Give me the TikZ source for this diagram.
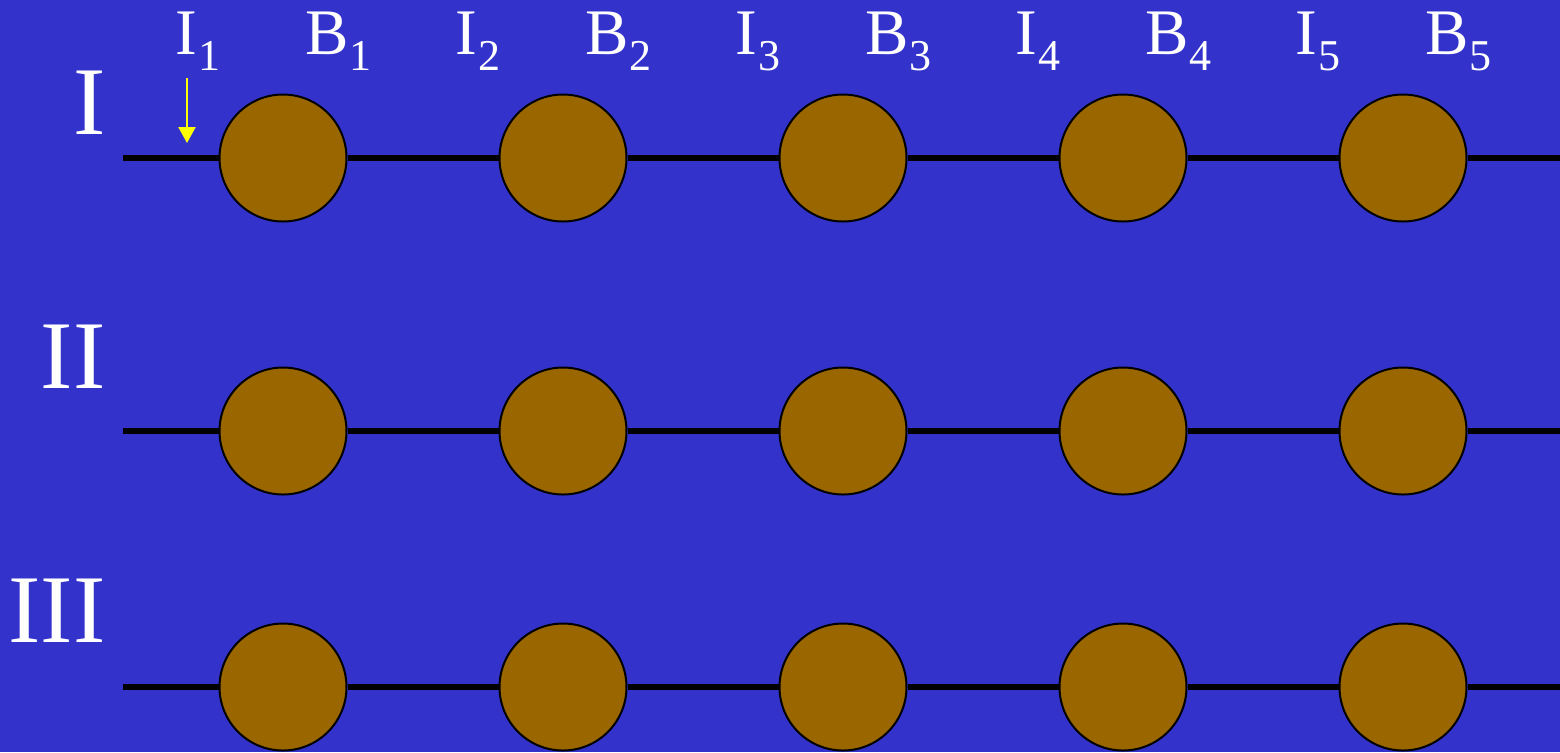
\documentclass[tikz,border=0pt]{standalone}
\usepackage{fontspec}
\setmainfont{Liberation Serif}
\usetikzlibrary{arrows.meta}
\definecolor{bgblue}{HTML}{3333CC}
\definecolor{ball}{HTML}{996600}
\definecolor{arrowyellow}{HTML}{FFFF00}
\newcommand{\lbl}[2]{#1\kern0.5pt\raisebox{-8pt}{\fontsize{22}{22}\selectfont #2}}
\begin{document}
\begin{tikzpicture}[x=0.5pt,y=-0.5pt,
  ball/.style={circle,draw=black,line width=1pt,fill=ball,minimum size=63.5pt,inner sep=0pt},
  wire/.style={line width=3pt,black},
  lab/.style={text=white,font=\fontsize{32.5}{34}\selectfont,inner sep=0pt,anchor=base west},
  roman/.style={text=white,font=\fontsize{48.5}{50}\selectfont,inner sep=0pt,anchor=base east},
  marker/.style={arrowyellow,line width=1.2pt,-{Triangle[width=8.5pt,length=8pt]}}]
\fill[bgblue] (0,0) rectangle (1560,752);
\useasboundingbox (0,0) rectangle (1560,752);
% column labels
\foreach \k/\x in {1/175,2/455,3/735,4/1015,5/1295}{
  \node[lab] (I\k) at (\x,54) {\lbl{I}{\k}};
  \node[lab] (B\k) at (\x+130,54) {\lbl{B}{\k}};
}
% rows
\foreach \r/\y in {1/158,2/431,3/687}{
  \coordinate (s\r) at (123,\y);
  \coordinate (e\r) at (1560,\y);
  \foreach \c/\x in {1/283,2/563,3/843,4/1123,5/1403}{
    \node[ball] (b\r\c) at (\x,\y) {};
  }
  \draw[wire] (s\r) -- (b\r1.west);
  \draw[wire] (b\r1.east) -- (b\r2.west);
  \draw[wire] (b\r2.east) -- (b\r3.west);
  \draw[wire] (b\r3.east) -- (b\r4.west);
  \draw[wire] (b\r4.east) -- (b\r5.west);
  \draw[wire] (b\r5.east) -- (e\r);
}
\node[roman] (r1) at (106,134) {I};
\node[roman] (r2) at (106,388) {II};
\node[roman] (r3) at (106,642) {III};
\coordinate (a0) at (187,78);
\coordinate (a1) at (187,143);
\draw[marker] (a0) -- (a1);
\end{tikzpicture}
\end{document}
